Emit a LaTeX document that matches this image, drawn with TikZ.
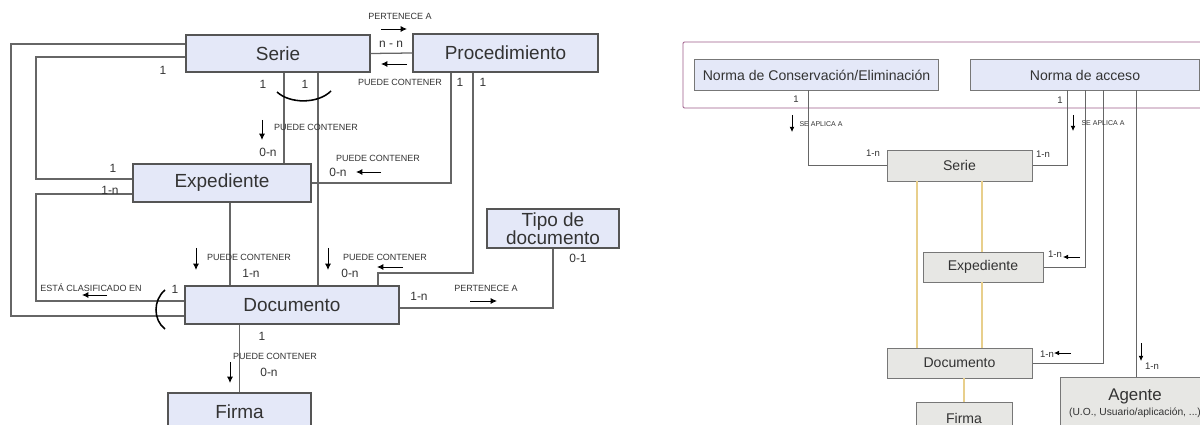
\documentclass[tikz,border=0pt]{standalone}
\usepackage{fontspec}
\setmainfont{Liberation Sans}
\usetikzlibrary{arrows.meta}

\definecolor{boxblue}{HTML}{E4E8F8}
\definecolor{boxgrey}{HTML}{E7E7E4}
\definecolor{boxedge}{HTML}{555555}
\definecolor{linegrey}{HTML}{666666}
\definecolor{framepurple}{HTML}{9C5A88}
\definecolor{linkyellow}{HTML}{E8CF8C}
\definecolor{txt}{HTML}{333333}

\begin{document}
\begin{tikzpicture}[x=0.025cm, y=-0.025cm,
    lbox/.style={rectangle, draw=boxedge, line width=0.9pt, fill=boxblue, inner sep=0pt, font=\fontsize{13.5}{13}\selectfont, text=txt, align=center},
    rbox/.style={rectangle, draw=boxedge!80, line width=0.7pt, fill=#1, inner sep=0pt, font=\fontsize{10}{11}\selectfont, text=txt, align=center},
    rbox/.default=boxgrey,
    link/.style={draw=linegrey, line width=0.9pt},
    pale/.style={draw=linkyellow, line width=0.9pt},
    flow/.style={-{Latex[length=1.6mm,width=1.5mm]}, line width=0.6pt},
    flowsm/.style={-{Latex[length=1.3mm,width=1.2mm]}, line width=0.5pt},
    rel/.style={font=\fontsize{6.4}{7}\selectfont, text=txt, inner sep=0pt},
    relsm/.style={font=\fontsize{5}{6}\selectfont, text=txt, inner sep=0pt},
    card/.style={font=\fontsize{8.5}{9}\selectfont, text=txt, inner sep=0pt},
    cardsm/.style={font=\fontsize{6.8}{7}\selectfont, text=txt, inner sep=0pt},
]
\useasboundingbox (0,0) rectangle (1200,425);
\clip (0,0) rectangle (1200,425);

% --- left model: entities ---
\node[lbox, minimum width=4.6cm, minimum height=0.925cm] (serie) at (278,53.5) {Serie};
\node[lbox, minimum width=4.625cm, minimum height=0.95cm] (proc) at (505.5,53) {Procedimiento};
\node[lbox, minimum width=4.45cm, minimum height=0.95cm] (exped) at (222,183) {Expediente};
\node[lbox, minimum width=5.35cm, minimum height=0.95cm] (docu) at (292,305) {Documento};
\node[lbox, minimum width=3.575cm, minimum height=0.95cm] (firma) at (239.5,412) {Firma};
\node[lbox, minimum width=3.3cm, minimum height=0.975cm] (tipo) at (553,228.5) {Tipo de\\documento};

% --- left model: relations ---
\draw[link] (serie.east) -- (proc.west);
\draw[link] (serie.west |- 0,44) -| (11,316) -- (docu.west |- 0,316);
\draw[link] (serie.west |- 0,57) -| (36,179) -- (exped.west |- 0,179);
\draw[link] (exped.west |- 0,194) -| (36,301) -- (docu.west |- 0,301);
\draw[link] (serie.south -| 284,0) -- (exped.north -| 284,0);
\draw[link] (serie.south -| 318,0) -- (docu.north -| 318,0);
\draw[link] (proc.south -| 451,0) |- (exped.east);
\draw[link] (proc.south -| 473,0) |- (378,273) -- (docu.north -| 378,0);
\draw[link] (exped.south -| 230,0) -- (docu.north -| 230,0);
\draw[link] (docu.south -| firma.north) -- (firma.north);
\draw[link] (docu.east |- 0,308) -| (tipo.south);

% exclusive-choice arcs
\draw[line width=1.1pt] (277,92) .. controls (290,104) and (318,104) .. (331,91);
\draw[line width=1.1pt] (165,290) .. controls (153,300) and (153,320) .. (165,329);

% --- left model: labels ---
\node[rel] (pa1) at (400,16) {PERTENECE A};
\draw[flow] (381,29) -- (407,29);
\node[card] (nn) at (391,44) {n - n};
\draw[flow] (407,64) -- (381,64);
\node[rel] (pc1) at (400,82) {PUEDE CONTENER};
\node[card] (c1) at (163,70) {1};
\node[card] (c2) at (263,84) {1};
\node[card] (c3) at (305,84) {1};
\draw[flow] (262,120) -- (262,140);
\node[rel] (pc2) at (316,127) {PUEDE CONTENER};
\node[card] (c4) at (268,152) {0-n};
\node[card] (c5) at (460,82) {1};
\node[card] (c6) at (483,82) {1};
\node[rel] (pc3) at (378,158) {PUEDE CONTENER};
\node[card] (c7) at (338,172) {0-n};
\draw[flow] (381,172) -- (356,172);
\node[card] (c8) at (113,168) {1};
\node[card] (c9) at (110,190) {1-n};
\node[rel] (ec) at (91,288) {ESTÁ CLASIFICADO EN};
\draw[flow] (107,295) -- (82,295);
\node[card] (c10) at (175,289) {1};
\draw[flow] (196,248) -- (196,270);
\node[rel] (pc4) at (249,257) {PUEDE CONTENER};
\node[card] (c11) at (251,273) {1-n};
\draw[flow] (328,248) -- (328,270);
\node[rel] (pc5) at (385,257) {PUEDE CONTENER};
\node[card] (c12) at (350,273) {0-n};
\draw[flow] (403,267) -- (377,267);
\node[card] (c13) at (419,296) {1-n};
\node[rel] (pa2) at (486,288) {PERTENECE A};
\draw[flow] (470,301) -- (497,301);
\node[card] (c14) at (578,258) {0-1};
\node[card] (c15) at (262,336) {1};
\node[rel] (pc6) at (275,356) {PUEDE CONTENER};
\node[card] (c16) at (269,372) {0-n};
\draw[flow] (230,362) -- (230,383);

% --- right model: norms frame and entities ---
\node[draw=framepurple, line width=0.6pt, rounded corners=1pt, minimum width=13.3cm, minimum height=1.65cm] (normas) at (949,75) {};
\node[rbox=boxblue, minimum width=6.075cm, minimum height=0.75cm] (nconserv) at (816.5,75) {Norma de Conservación/Eliminación};
\node[rbox=boxblue, minimum width=5.7cm, minimum height=0.75cm] (nacceso) at (1085,75) {Norma de acceso};
\node[rbox, minimum width=3.625cm, minimum height=0.775cm] (rserie) at (959.5,165.5) {Serie};
\node[rbox, minimum width=3cm, minimum height=0.75cm] (rexped) at (983,267) {Expediente};
\node[rbox, minimum width=3.625cm, minimum height=0.75cm] (rdocu) at (959.5,363) {Documento};
\node[rbox, minimum width=2.4cm, minimum height=0.8cm] (rfirma) at (964,418) {Firma};
\node[rbox, minimum width=3.75cm, minimum height=1.325cm, font=\fontsize{12}{13}\selectfont] (agente) at (1135,403.5) {Agente\\[-2pt]{\fontsize{7.3}{8}\selectfont(U.O., Usuario/aplicación, ...)}};

% --- right model: relations ---
\draw[pale] (rserie.south -| 917,0) -- (rdocu.north -| 917,0);
\draw[pale] (rserie.south -| 982,0) -- (rexped.north -| 982,0);
\draw[pale] (rexped.south -| 982,0) -- (rdocu.north -| 982,0);
\draw[pale] (rdocu.south -| rfirma.north) -- (rfirma.north);
\draw[link, line width=0.7pt] (nconserv.south -| 808,0) |- (rserie.west);
\draw[link, line width=0.7pt] (nacceso.south -| 1067,0) |- (rserie.east);
\draw[link, line width=0.7pt] (nacceso.south -| 1085,0) |- (rexped.east);
\draw[link, line width=0.7pt] (nacceso.south -| 1103,0) |- (rdocu.east);
\draw[link, line width=0.7pt] (nacceso.south -| 1136,0) -- (agente.north -| 1136,0);

% --- right model: labels ---
\node[cardsm] (d1) at (796,99) {1};
\draw[flowsm] (792,115) -- (792,132);
\node[relsm] (sa1) at (821,124) {SE APLICA A};
\node[cardsm] (d2) at (873,153) {1-n};
\node[cardsm] (d3) at (1060,100) {1};
\draw[flowsm] (1073,115) -- (1073,131);
\node[relsm] (sa2) at (1103,123) {SE APLICA A};
\node[cardsm] (d4) at (1043,154) {1-n};
\node[cardsm] (d5) at (1055,254) {1-n};
\draw[flowsm] (1080,257) -- (1063,257);
\node[cardsm] (d6) at (1047,354) {1-n};
\draw[flowsm] (1071,353) -- (1054,353);
\draw[flowsm] (1141,343) -- (1141,361);
\node[cardsm] (d7) at (1152,366) {1-n};

\end{tikzpicture}
\end{document}
